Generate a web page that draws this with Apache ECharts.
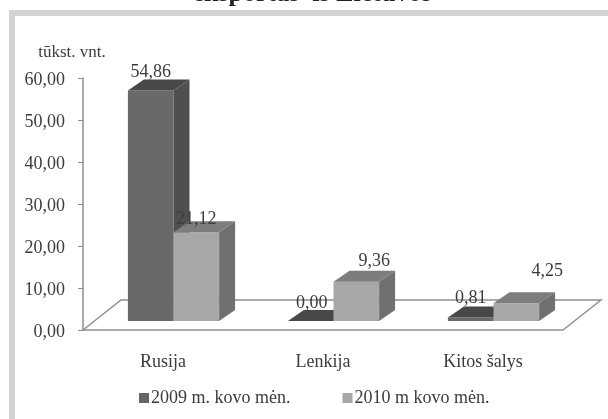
<!DOCTYPE html>
<html>
<head>
<meta charset="utf-8">
<style>
  html, body { margin: 0; padding: 0; background: #fff; }
  #chart { width: 608px; height: 419px; filter: blur(0.45px); }
</style>
<script src="https://cdn.jsdelivr.net/npm/echarts@6/dist/echarts.min.js"></script>
</head>
<body>
<div id="chart"></div>
<script>
var categories = ['Rusija', 'Lenkija', 'Kitos šalys'];
var values2009 = [54.86, 0.00, 0.81];
var values2010 = [21.12, 9.36, 4.25];
var series2009 = '2009 m. kovo mėn.';
var series2010 = '2010 m kovo mėn.';
var titleText = 'eksportas  iš Lietuvos';
var unitText = 'tūkst. vnt.';

// label offsets from the bar's front top centre, the source placed them by hand
var nudge2009 = [[0, -18], [1, -18], [0, -19]];
var nudge2010 = [[0, -13], [18, -20], [31, -32]];

var serif = '"Liberation Serif", serif';
var ink = '#3c3c3c';
var axisGrey = '#8f8f8f';
var frameGrey = '#d2d3d4';

function fmt(v) { return v.toFixed(2).replace('.', ','); }

// floor of the fake 3d plot
function renderFloor(params, api) {
    var c = params.coordSys;
    var x0 = c.x, x1 = c.x + c.width, y = c.y + c.height;
    return {
        type: 'polyline',
        silent: true,
        shape: { points: [[x0, y], [x0 + 38, y - 30], [x1 + 38, y - 30], [x1, y]] },
        style: { fill: null, stroke: axisGrey, lineWidth: 1.5 }
    };
}

function barRenderer(shift, nudge, colors) {
    return function(params, api) {
        var i = api.value(0);
        var v = api.value(1);
        var band = api.size([1, 0])[0];
        var w = band * 0.285;
        var base = api.coord([i, 0]);
        var top = api.coord([i, v]);
        var dx = 16, dy = -11;
        var x = base[0] + 10.5 + shift * w;
        var yb = base[1] - 9;
        var yt = top[1] - 9;
        return {
            type: 'group',
            children: [
                { type: 'rect', shape: { x: x, y: yt, width: w, height: yb - yt }, style: { fill: colors[0] } },
                { type: 'polygon', shape: { points: [[x + w, yt], [x + w + dx, yt + dy], [x + w + dx, yb + dy], [x + w, yb]] }, style: { fill: colors[1] } },
                { type: 'polygon', shape: { points: [[x, yt], [x + dx, yt + dy], [x + w + dx, yt + dy], [x + w, yt]] }, style: { fill: colors[2] } },
                { type: 'text', z2: 10, style: {
                    x: x + w / 2 + nudge[i][0], y: yt + nudge[i][1],
                    text: fmt(v), fill: ink, font: '18px ' + serif, align: 'center', verticalAlign: 'middle'
                } }
            ]
        };
    };
}

function toPoints(arr) {
    return arr.map(function(v, i) { return [i, v]; });
}

var chart = echarts.init(document.getElementById('chart'));
chart.setOption({
    animation: false,
    backgroundColor: '#fff',
    textStyle: { fontFamily: serif },
    grid: { left: 83, right: 45, top: 78, bottom: 89 },
    legend: {
        data: [series2009, series2010],
        left: 134, top: 384,
        icon: 'rect', itemWidth: 10, itemHeight: 10, itemGap: 52,
        textStyle: { color: ink, fontSize: 18, fontFamily: serif, padding: [0, 0, 0, -3] }
    },
    graphic: [
        { type: 'rect', silent: true, shape: { x: 9, y: 10, width: 599, height: 6 }, style: { fill: frameGrey } },
        { type: 'rect', silent: true, shape: { x: 9, y: 10, width: 6, height: 409 }, style: { fill: frameGrey } },
        { type: 'text', silent: true, x: 312, y: 7, style: {
            text: titleText, fill: '#222', font: 'bold 26px ' + serif, align: 'center', verticalAlign: 'bottom'
        } }
    ],
    xAxis: {
        type: 'category',
        data: categories,
        axisLine: { lineStyle: { color: axisGrey, width: 1.5 } },
        axisTick: { length: 7, lineStyle: { color: axisGrey } },
        axisLabel: { color: ink, fontSize: 18, fontFamily: serif, margin: 23 }
    },
    yAxis: {
        type: 'value', min: 0, max: 60, interval: 10,
        name: unitText,
        nameLocation: 'end', nameGap: 17,
        nameTextStyle: { color: ink, fontSize: 17, fontFamily: serif, padding: [0, 22, 0, 0] },
        axisLine: { show: true, lineStyle: { color: axisGrey, width: 1.5 } },
        axisTick: { show: true, length: 5, lineStyle: { color: axisGrey } },
        splitLine: { show: false },
        axisLabel: {
            color: ink, fontSize: 18, fontFamily: serif, margin: 18,
            verticalAlign: 'bottom', padding: [0, 0, -11, 0], formatter: fmt
        }
    },
    series: [
        { type: 'custom', name: 'floor', data: [[0, 0]], renderItem: renderFloor, silent: true, z: 1 },
        {
            type: 'custom', name: series2009, data: toPoints(values2009), z: 2,
            itemStyle: { color: '#666668' },
            renderItem: barRenderer(-1, nudge2009, ['#69696b', '#4f4f51', '#48484a'])
        },
        {
            type: 'custom', name: series2010, data: toPoints(values2010), z: 3,
            itemStyle: { color: '#a6a7a9' },
            renderItem: barRenderer(0, nudge2010, ['#a7a8aa', '#707072', '#7d7d7f'])
        }
    ]
});
</script>
</body>
</html>
